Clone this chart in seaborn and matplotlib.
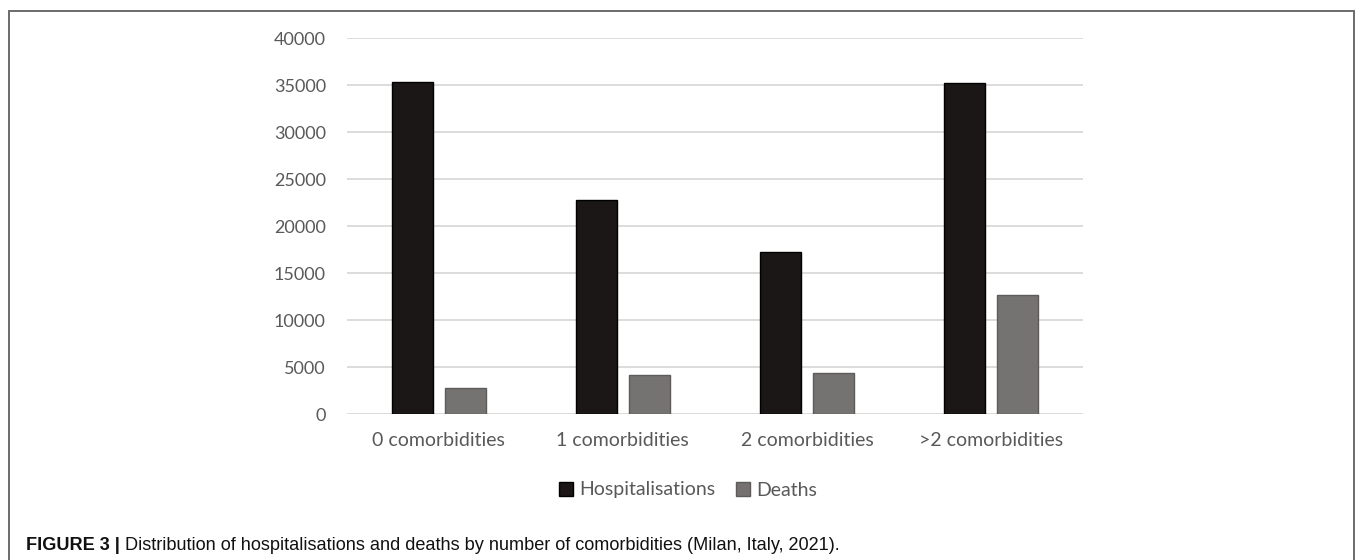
import matplotlib
matplotlib.use("Agg")
import matplotlib.pyplot as plt
from matplotlib.lines import Line2D
from matplotlib.patches import Patch
import seaborn as sns
import pandas as pd

categories = ["0 comorbidities", "1 comorbidities", "2 comorbidities", ">2 comorbidities"]
hospitalisations = [35350, 22800, 17230, 35200]
deaths = [2750, 4220, 4400, 12700]
series_names = ["Hospitalisations", "Deaths"]
y_ticks = [0, 5000, 10000, 15000, 20000, 25000, 30000, 35000, 40000]
caption_bold = "FIGURE 3 |"
caption_text = " Distribution of hospitalisations and deaths by number of comorbidities (Milan, Italy, 2021)."

df = pd.DataFrame({
    "category": categories * 2,
    "series": [series_names[0]] * len(categories) + [series_names[1]] * len(categories),
    "value": hospitalisations + deaths,
})

sns.set_theme(style="white")
plt.rcParams["font.family"] = ["Lato", "DejaVu Sans"]

W, H = 1355, 560
fig = plt.figure(figsize=(W / 100, H / 100), dpi=100)
ax = fig.add_axes([346.7 / W, 1 - 414.3 / H, (1083 - 346.7) / W, (414.3 - 38.3) / H])

colors = {"Hospitalisations": "#1c1616", "Deaths": "#767171"}
edges = {"Hospitalisations": "#000000", "Deaths": "#5e5a5a"}
sns.barplot(data=df, x="category", y="value", hue="series", palette=colors,
            width=0.576, gap=0.226, ax=ax, legend=False, zorder=3)
for bar_container, name in zip(ax.containers, series_names):
    for p in bar_container:
        p.set_edgecolor(edges[name])
        p.set_linewidth(1.0)

ax.set_ylim(0, 40000)
ax.set_xlim(-0.5, 3.5)
ax.set_yticks(y_ticks)
ax.set_yticklabels([str(t) for t in y_ticks])
ax.yaxis.grid(True, color="#d9d9d9", linewidth=1.3, zorder=0)
ax.set_axisbelow(True)
for s in ax.spines.values():
    s.set_visible(False)
ax.set_xlabel("")
ax.set_ylabel("")
ax.tick_params(axis="y", length=0, pad=15, labelsize=13, labelcolor="#595959")
ax.tick_params(axis="x", length=0, pad=13, labelsize=14, labelcolor="#595959")

handles = [Patch(facecolor=colors[n], edgecolor=edges[n]) for n in series_names]
fig.legend(handles, series_names, loc="center", bbox_to_anchor=(688 / W, 1 - 490 / H),
           ncol=2, frameon=False, fontsize=14, labelcolor="#595959",
           handlelength=0.7, handleheight=0.7, handletextpad=0.3, columnspacing=1.1)

# border (left, top, right)
bc = "#6b6b6b"
fig.add_artist(Line2D([9 / W, 9 / W], [0, 1 - 11 / H], color=bc, linewidth=1.4, transform=fig.transFigure))
fig.add_artist(Line2D([9 / W, 1354 / W], [1 - 11 / H, 1 - 11 / H], color=bc, linewidth=1.4, transform=fig.transFigure))
fig.add_artist(Line2D([1354 / W, 1354 / W], [0, 1 - 11 / H], color=bc, linewidth=1.4, transform=fig.transFigure))

cap_fam = ["Liberation Sans", "DejaVu Sans"]
t1 = fig.text(26 / W, 1 - 550 / H, caption_bold, fontsize=13.1, fontweight="bold",
              family=cap_fam, color="#111111", va="baseline", ha="left")
fig.canvas.draw()
bb = t1.get_window_extent()
fig.text(bb.x1 / W, 1 - 550 / H, caption_text, fontsize=13.1, family=cap_fam,
         color="#111111", va="baseline", ha="left")

fig.savefig("out.png", dpi=100, facecolor="white")
